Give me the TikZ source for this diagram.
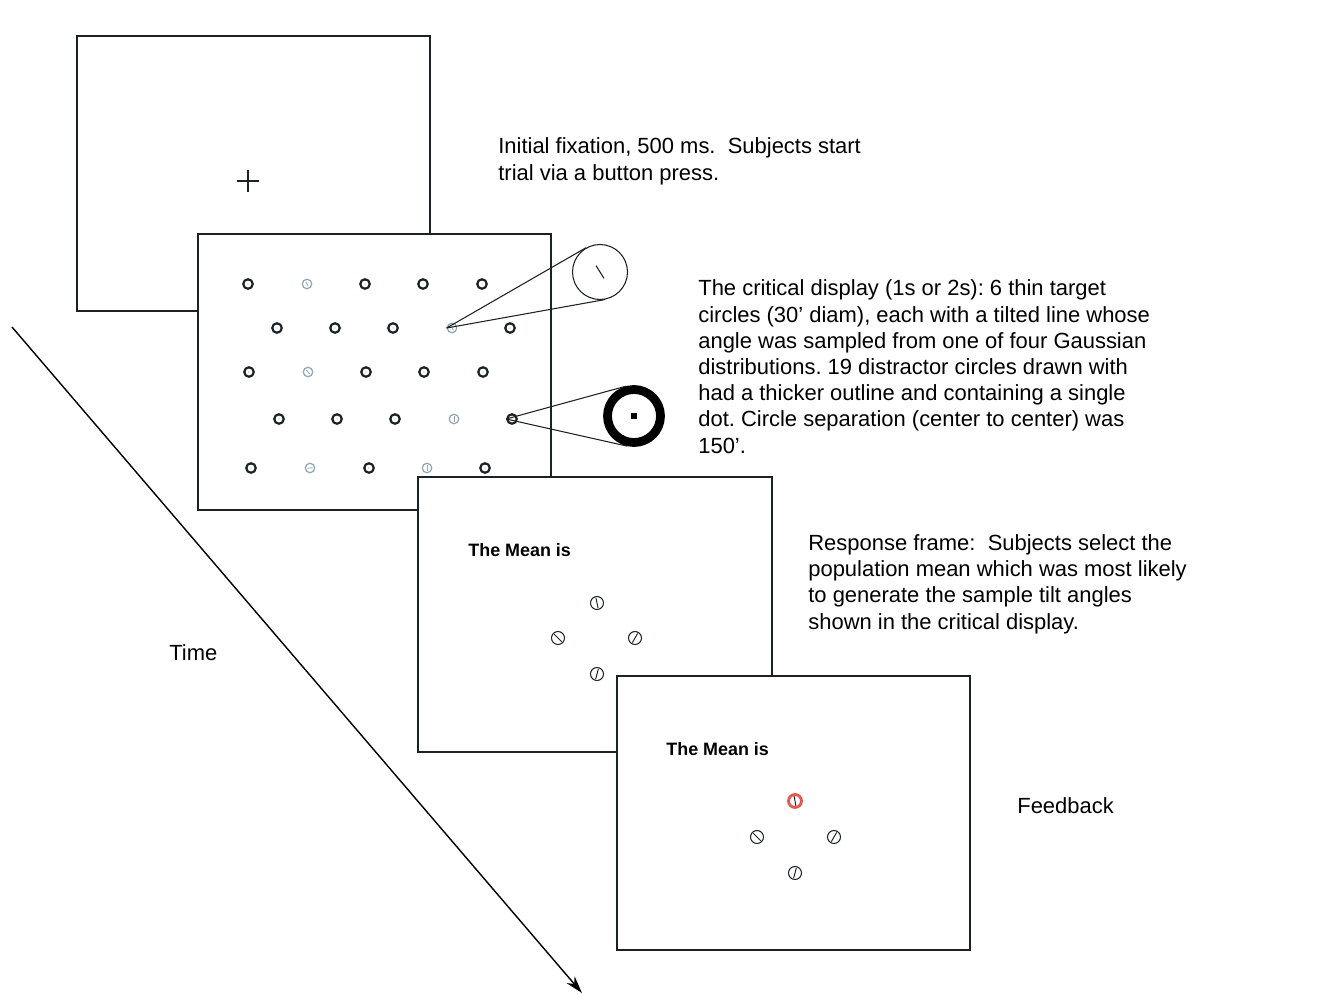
\documentclass[tikz,border=0pt]{standalone}
\usepackage{fontspec}
\setmainfont{Liberation Sans}
\usetikzlibrary{arrows.meta, positioning, calc}
\definecolor{screenline}{HTML}{1C2224}
\definecolor{targetgray}{HTML}{8EA6B3}
\definecolor{feedbackred}{HTML}{E8574C}
\frenchspacing

\tikzset{
  screen/.style={draw=screenline, fill=white, line width=0.9pt},
  distractor/.style={circle, draw=screenline, line width=1.25pt, minimum size=0.19cm, inner sep=0pt,
    path picture={\fill[targetgray] (path picture bounding box.center) circle (0.35pt);}},
  target/.style={circle, draw=targetgray, line width=0.7pt, minimum size=0.19cm, inner sep=0pt,
    path picture={\draw[targetgray, line width=0.45pt]
      ($(path picture bounding box.center)+(#1:1.5pt)$) -- ($(path picture bounding box.center)+(#1+180:1.5pt)$);}},
  probe/.style={circle, draw=screenline, line width=0.6pt, minimum size=0.26cm, inner sep=0pt,
    path picture={\draw[screenline, line width=0.55pt]
      ($(path picture bounding box.center)+(#1:3pt)$) -- ($(path picture bounding box.center)+(#1+180:3pt)$);}},
  chosen/.style={probe=#1, draw=feedbackred, line width=1.6pt},
  cone/.style={screenline, line width=0.6pt},
  caption/.style={anchor=base west, align=left, inner sep=0pt},
}

\begin{document}
\begin{tikzpicture}[x=0.02cm, y=-0.02cm, font=\fontsize{12.5}{14.9}\selectfont]
  \fill[white] (0,0) rectangle (1322,994);
  \useasboundingbox (0,0) rectangle (1322,994);

  % fixation screen
  \filldraw[screen] (77,36) rectangle (430,311);
  \node[inner sep=0pt] (fix) at (248,181) {};
  \draw[screenline, line width=0.6pt] ($(fix)+(-11,0)$) -- ($(fix)+(11,0)$);
  \draw[screenline, line width=0.6pt] ($(fix)+(0,-11)$) -- ($(fix)+(0,11)$);
  \node[caption] (fixtext) at (498,180)
    {Initial fixation, 500 ms.\ \ Subjects start\\trial via a button press.};

  % critical display
  \filldraw[screen] (198,234) rectangle (551,510);
  \node[distractor] (d1) at (248,284) {};
  \node[target=120] (t1) at (307,284) {};
  \node[distractor] (d2) at (365,284) {};
  \node[distractor] (d3) at (423,284) {};
  \node[distractor] (d4) at (482,284) {};
  \node[distractor] (d5) at (277,328) {};
  \node[distractor] (d6) at (335,328) {};
  \node[distractor] (d7) at (393,328) {};
  \node[target=120] (t2) at (452,328) {};
  \node[distractor] (d8) at (510,328) {};
  \node[distractor] (d9) at (249,372) {};
  \node[target=130] (t3) at (308,372) {};
  \node[distractor] (d10) at (366,372) {};
  \node[distractor] (d11) at (424,372) {};
  \node[distractor] (d12) at (483,372) {};
  \node[distractor] (d13) at (279,419) {};
  \node[distractor] (d14) at (337,419) {};
  \node[distractor] (d15) at (395,419) {};
  \node[target=90] (t4) at (454,419) {};
  \node[distractor] (d16) at (512,419) {};
  \node[distractor] (d17) at (251,468) {};
  \node[target=5] (t5) at (310,468) {};
  \node[distractor] (d18) at (369,468) {};
  \node[target=90] (t6) at (427,468) {};
  \node[distractor] (d19) at (485,468) {};

  % magnified circles
  \node[circle, draw=screenline, line width=0.6pt, minimum size=1.1cm, inner sep=0pt] (zoomA) at (600,272) {};
  \draw[cone] ($(zoomA.center)+(122:4.3pt)$) -- ($(zoomA.center)+(-58:4.3pt)$);
  \draw[cone] (t2.west) -- (tangent cs:node=zoomA,point={(t2.west)},solution=1);
  \draw[cone] (t2.west) -- (tangent cs:node=zoomA,point={(t2.west)},solution=2);
  \node[circle, draw=black, line width=5pt, minimum size=1.06cm, inner sep=0pt] (zoomB) at (634,416) {};
  \fill[black] ($(zoomB)+(-3,-3)$) rectangle ($(zoomB)+(3,3)$);
  \draw[cone] (d16.west) -- (tangent cs:node=zoomB,point={(d16.west)},solution=1);
  \draw[cone] (d16.west) -- (tangent cs:node=zoomB,point={(d16.west)},solution=2);
  \node[caption] (crittext) at (698,453)
    {The critical display (1s or 2s): 6 thin target\\
     circles (30’ diam), each with a tilted line whose\\
     angle was sampled from one of four Gaussian\\
     distributions. 19 distractor circles drawn with\\
     had a thicker outline and containing a single\\
     dot. Circle separation (center to center) was\\
     150’.};

  % response frame
  \filldraw[screen] (418,477) rectangle (772,752);
  \node[anchor=base west, inner sep=0pt, font=\fontsize{10.2}{12}\selectfont\bfseries] (meanA) at (468,556) {The Mean is};
  \node[probe=102] (pA1) at (597,603) {};
  \node[probe=135] (pA2) at (558,638) {};
  \node[probe=60] (pA3) at (635,638) {};
  \node[probe=75] (pA4) at (597,674) {};
  \node[caption] (resptext) at (808,629)
    {Response frame:\ \ Subjects select the\\
     population mean which was most likely\\
     to generate the sample tilt angles\\
     shown in the critical display.};

  % feedback frame
  \filldraw[screen] (617,676) rectangle (970,950);
  \node[anchor=base west, inner sep=0pt, font=\fontsize{10.2}{12}\selectfont\bfseries] (meanB) at (666,755) {The Mean is};
  \node[chosen=100] (pB1) at (795,801) {};
  \node[probe=135] (pB2) at (757,837) {};
  \node[probe=60] (pB3) at (834,837) {};
  \node[probe=75] (pB4) at (795,873) {};
  \node[caption] (feedtext) at (1017,813) {Feedback};

  % time axis
  \coordinate (timetop) at (12,327);
  \coordinate (timeend) at (582,993);
  \draw[-{Stealth[length=10pt, width=6pt]}, line width=0.8pt] (timetop) -- (timeend);
  \node[caption] (timetext) at (169,660) {Time};
\end{tikzpicture}
\end{document}
